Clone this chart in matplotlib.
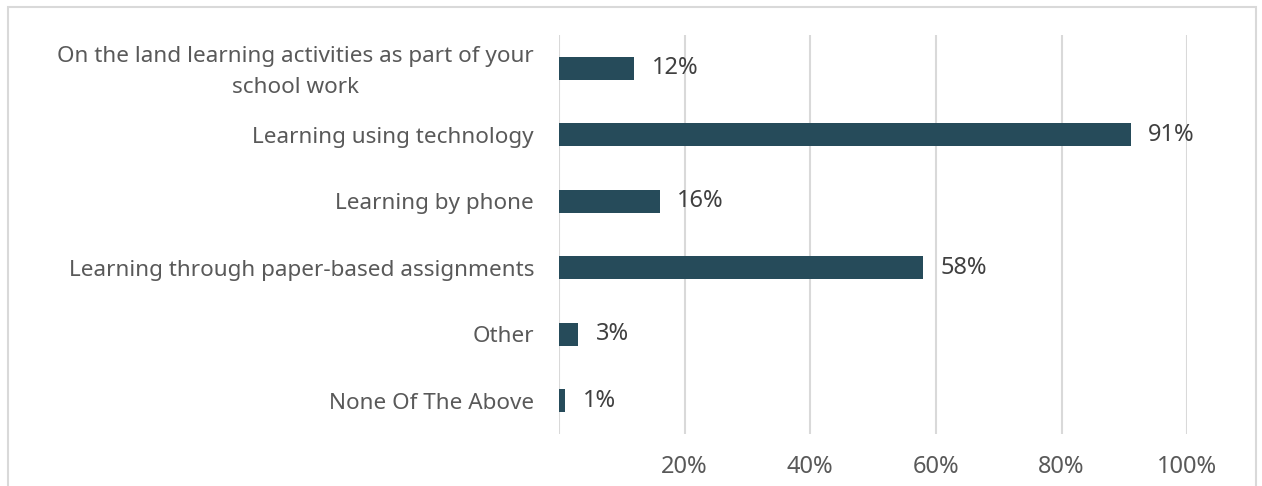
import matplotlib.pyplot as plt
from matplotlib.patches import Rectangle
from matplotlib.transforms import ScaledTranslation

# Data
categories = [
    "On the land learning activities as part of your\nschool work",
    "Learning using technology",
    "Learning by phone",
    "Learning through paper-based assignments",
    "Other",
    "None Of The Above",
]
values = [12, 91, 16, 58, 3, 1]
ticks = [20, 40, 60, 80, 100]

bar_color = "#264b5a"
text_color = "#595959"
grid_color = "#d9d9d9"

plt.rcParams["font.family"] = ["Noto Sans", "DejaVu Sans"]

fig = plt.figure(figsize=(12.62, 4.86), dpi=100)
ax = fig.add_axes([0.443, 0.107, 0.4977, 0.821])

# Outer chart border
fig.patches.append(Rectangle((8 / 1262, -0.1), 1248 / 1262, 1 - 7 / 486 + 0.1,
                             transform=fig.transFigure, fill=False,
                             edgecolor=grid_color, linewidth=1.5))

y = range(len(categories))
ax.barh(y, values, height=0.35, color=bar_color, zorder=3)
for yi, v in zip(y, values):
    ax.text(v + 2.8, yi, f"{v}%", va="center", ha="left",
            fontsize=17, color="#404040")

ax.set_xlim(0, 100)
ax.set_ylim(len(categories) - 0.5, -0.5)
ax.set_yticks(list(y))
ax.set_yticklabels(categories, fontsize=16.2, color=text_color,
                   multialignment="center", linespacing=1.66)
ax.set_xticks(ticks)
ax.set_xticklabels([f"{t}%" for t in ticks], fontsize=17, color=text_color)
ax.tick_params(axis="y", length=0, pad=18)
ax.tick_params(axis="x", length=0, pad=15)

# nudge the two-line label up a little
first = ax.get_yticklabels()[0]
first.set_transform(first.get_transform() + ScaledTranslation(0, 3 / 72, fig.dpi_scale_trans))

for t in [0] + ticks:
    ax.axvline(t, color=grid_color, linewidth=1.5, zorder=1)

for s in ax.spines.values():
    s.set_visible(False)

fig.savefig("out.png", dpi=100)
plt.close()
